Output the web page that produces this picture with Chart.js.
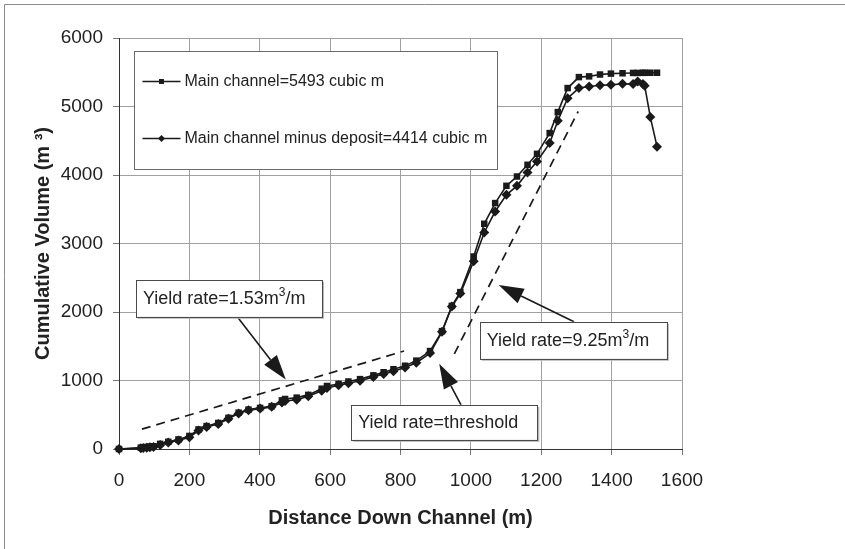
<!DOCTYPE html>
<html>
<head>
<meta charset="utf-8">
<title>Cumulative Volume</title>
<script src="https://cdn.jsdelivr.net/npm/chart.js@4.4.1/dist/chart.umd.min.js"></script>
<style>
  html, body { margin: 0; padding: 0; background: #ffffff; }
  #wrap { position: relative; width: 845px; height: 549px; }
</style>
</head>
<body>
<div id="wrap"><canvas id="volume-chart" width="845" height="549"></canvas></div>
<script>
/* global Chart */

// Survey stations down the channel (m), shared by both volume series.
const DISTANCE_M = [
  0, 62, 69, 79, 88, 98, 117, 140, 169, 200, 226, 249, 282, 311, 340, 368,
  401, 434, 463, 472, 505, 538, 576, 591, 624, 652, 685, 723, 752, 780, 813,
  845, 884, 918, 946, 970, 1008, 1038, 1069, 1101, 1131, 1161, 1188, 1224,
  1247, 1275, 1307, 1336, 1367, 1398, 1431, 1461, 1474, 1489, 1494, 1510, 1529,
];

// Cumulative volume (m3) of the main channel.
const MAIN_CHANNEL = [
  0, 20, 25, 30, 35, 40, 75, 105, 140, 190, 285, 335, 380, 455, 530, 575,
  600, 625, 710, 730, 750, 790, 880, 920, 950, 985, 1020, 1075, 1120, 1165, 1215,
  1290, 1430, 1720, 2090, 2290, 2810, 3288, 3590, 3842, 3978, 4149, 4309, 4612,
  4918, 5269, 5429, 5440, 5467, 5480, 5485, 5490, 5490, 5492, 5492, 5493, 5493,
];

// Cumulative volume (m3) of the main channel minus the deposit.
const MINUS_DEPOSIT = [
  0, 10, 15, 20, 25, 30, 60, 95, 125, 170, 270, 320, 365, 440, 520, 565,
  590, 615, 680, 700, 720, 770, 850, 890, 930, 960, 995, 1050, 1095, 1135, 1190,
  1260, 1400, 1710, 2080, 2270, 2740, 3161, 3467, 3711, 3842, 4036, 4197, 4466,
  4791, 5122, 5269, 5292, 5310, 5316, 5331, 5327, 5365, 5327, 5302, 4845, 4414,
];

const SERIES_LABELS = [
  "Main channel=5493 cubic m",
  "Main channel minus deposit=4414 cubic m",
];

// Dashed yield-rate trend lines: [start, end].
const LOW_RATE_X = [65, 810];
const LOW_RATE_Y = [290, 1430];
const HIGH_RATE_X = [953, 1305];
const HIGH_RATE_Y = [1390, 4927];

const X_TICKS = [0, 200, 400, 600, 800, 1000, 1200, 1400, 1600];
const Y_TICKS = [0, 1000, 2000, 3000, 4000, 5000, 6000];

const FONT = '"Liberation Sans", Arial, sans-serif';
const INK = "#1a1a1a";

// Callout boxes and arrows, anchored in data units (m, m3).
const CALLOUTS = [
  {
    parts: [["Yield rate=1.53m", false], ["3", true], ["/m", false]],
    box: { left: 48, right: 577, top: 2470, bottom: 1930 },
    tail: { x: 336, y: 1930 },
    tip: { x: 474, y: 1013 },
  },
  {
    parts: [["Yield rate=9.25m", false], ["3", true], ["/m", false]],
    box: { left: 1025, right: 1557, top: 1857, bottom: 1317 },
    tail: { x: 1293, y: 1857 },
    tip: { x: 1079, y: 2393 },
  },
  {
    parts: [["Yield rate=threshold", false]],
    box: { left: 660, right: 1189, top: 645, bottom: 134 },
    tail: { x: 972, y: 645 },
    tip: { x: 910, y: 1245 },
  },
];
const LEGEND_BOX = { left: 44, right: 1077, top: 5803, bottom: 4076 };

function toPoints(xs, ys) {
  return xs.map((x, i) => ({ x, y: ys[i] }));
}

function drawBox(ctx, x1, y1, x2, y2) {
  ctx.save();
  ctx.fillStyle = "#b8b8b8";
  ctx.fillRect(x1 + 2, y1 + 2, x2 - x1, y2 - y1);
  ctx.fillStyle = "#ffffff";
  ctx.fillRect(x1, y1, x2 - x1, y2 - y1);
  ctx.strokeStyle = "#4a4a4a";
  ctx.lineWidth = 1;
  ctx.strokeRect(Math.round(x1) + 0.5, Math.round(y1) + 0.5, Math.round(x2 - x1), Math.round(y2 - y1));
  ctx.restore();
}

function drawArrow(ctx, x1, y1, x2, y2) {
  const angle = Math.atan2(y2 - y1, x2 - x1);
  const headLen = 25;
  const headHalf = 8;
  const bx = x2 - headLen * Math.cos(angle);
  const by = y2 - headLen * Math.sin(angle);
  ctx.save();
  ctx.strokeStyle = INK;
  ctx.fillStyle = INK;
  ctx.lineWidth = 1.6;
  ctx.beginPath();
  ctx.moveTo(x1, y1);
  ctx.lineTo(bx, by);
  ctx.stroke();
  ctx.beginPath();
  ctx.moveTo(x2, y2);
  ctx.lineTo(bx + headHalf * Math.sin(angle), by - headHalf * Math.cos(angle));
  ctx.lineTo(bx - headHalf * Math.sin(angle), by + headHalf * Math.cos(angle));
  ctx.closePath();
  ctx.fill();
  ctx.restore();
}

function drawParts(ctx, parts, x, y) {
  let cx = x;
  parts.forEach(([text, sup]) => {
    ctx.font = sup ? `12px ${FONT}` : `18px ${FONT}`;
    ctx.fillText(text, cx, sup ? y - 7 : y);
    cx += ctx.measureText(text).width;
  });
}

const calloutPlugin = {
  id: "callouts",
  beforeDraw(chart) {
    const { ctx, width, height } = chart;
    ctx.save();
    ctx.strokeStyle = "#8c8c8c";
    ctx.lineWidth = 1;
    ctx.beginPath();
    ctx.moveTo(4.5, height);
    ctx.lineTo(4.5, 4.5);
    ctx.lineTo(width, 4.5);
    ctx.stroke();
    ctx.restore();
  },
  afterDatasetsDraw(chart) {
    const { ctx } = chart;
    const xs = chart.scales.x;
    const ys = chart.scales.y;

    // legend panel
    const lx1 = xs.getPixelForValue(LEGEND_BOX.left);
    const lx2 = xs.getPixelForValue(LEGEND_BOX.right);
    const ly1 = ys.getPixelForValue(LEGEND_BOX.top);
    const ly2 = ys.getPixelForValue(LEGEND_BOX.bottom);
    ctx.save();
    ctx.fillStyle = "#ffffff";
    ctx.fillRect(lx1, ly1, lx2 - lx1, ly2 - ly1);
    ctx.strokeStyle = "#6a6a6a";
    ctx.lineWidth = 1;
    ctx.strokeRect(Math.round(lx1) + 0.5, Math.round(ly1) + 0.5, Math.round(lx2 - lx1), Math.round(ly2 - ly1));
    const rows = [ly1 + 30, ly1 + 87];
    SERIES_LABELS.forEach((label, i) => {
      const y = rows[i];
      ctx.strokeStyle = INK;
      ctx.lineWidth = 1.5;
      ctx.beginPath();
      ctx.moveTo(lx1 + 8, y);
      ctx.lineTo(lx1 + 46, y);
      ctx.stroke();
      ctx.fillStyle = INK;
      Chart.helpers.drawPoint(ctx, {
        pointStyle: chart.data.datasets[i].pointStyle,
        radius: 3.5,
        borderWidth: 0,
        rotation: 0,
      }, lx1 + 27, y);
      ctx.font = `16px ${FONT}`;
      ctx.textBaseline = "middle";
      ctx.fillStyle = "#222";
      ctx.fillText(label, lx1 + 50, y);
    });
    ctx.restore();

    // yield-rate callouts
    CALLOUTS.forEach((c) => {
      drawArrow(
        ctx,
        xs.getPixelForValue(c.tail.x), ys.getPixelForValue(c.tail.y),
        xs.getPixelForValue(c.tip.x), ys.getPixelForValue(c.tip.y)
      );
      const x1 = xs.getPixelForValue(c.box.left);
      const x2 = xs.getPixelForValue(c.box.right);
      const y1 = ys.getPixelForValue(c.box.top);
      const y2 = ys.getPixelForValue(c.box.bottom);
      drawBox(ctx, x1, y1, x2, y2);
      ctx.save();
      ctx.fillStyle = "#222";
      ctx.textBaseline = "middle";
      drawParts(ctx, c.parts, x1 + 7, (y1 + y2) / 2 + 1);
      ctx.restore();
    });
  },
};

Chart.defaults.font.family = FONT;
Chart.defaults.color = "#222";

new Chart(document.getElementById("volume-chart"), {
  type: "scatter",
  data: {
    datasets: [
      {
        label: SERIES_LABELS[0],
        data: toPoints(DISTANCE_M, MAIN_CHANNEL),
        showLine: true,
        clip: false,
        borderColor: INK,
        borderWidth: 1.6,
        backgroundColor: INK,
        pointStyle: "rect",
        pointRadius: 4.6,
        pointBorderWidth: 0,
      },
      {
        label: SERIES_LABELS[1],
        data: toPoints(DISTANCE_M, MINUS_DEPOSIT),
        showLine: true,
        clip: false,
        borderColor: INK,
        borderWidth: 1.6,
        backgroundColor: INK,
        pointStyle: "rectRot",
        pointRadius: 5,
        pointBorderWidth: 0,
      },
      {
        label: "low rate",
        data: toPoints(LOW_RATE_X, LOW_RATE_Y),
        showLine: true,
        borderColor: INK,
        borderWidth: 1.7,
        borderDash: [9, 6],
        pointRadius: 0,
      },
      {
        label: "high rate",
        data: toPoints(HIGH_RATE_X, HIGH_RATE_Y),
        showLine: true,
        borderColor: INK,
        borderWidth: 1.7,
        borderDash: [9, 6],
        pointRadius: 0,
      },
    ],
  },
  options: {
    responsive: false,
    animation: false,
    layout: { padding: { left: 20, right: 163, top: 38, bottom: 10 } },
    scales: {
      x: {
        type: "linear",
        min: 0,
        max: 1600,
        afterBuildTicks: (scale) => {
          scale.ticks = X_TICKS.map((value) => ({ value }));
        },
        afterFit: (scale) => {
          scale.height = 90;
        },
        grid: { color: "#a0a0a0", tickColor: "#777", tickLength: 6 },
        border: { color: "#333", width: 1 },
        ticks: {
          font: { size: 19 },
          color: "#222",
          padding: 14,
          maxRotation: 0,
          callback: (value) => String(value),
        },
        title: {
          display: true,
          text: "Distance Down Channel (m)",
          font: { size: 20, weight: "bold" },
          color: "#222",
          padding: { top: 0, bottom: 9 },
        },
      },
      y: {
        min: 0,
        max: 6000,
        afterBuildTicks: (scale) => {
          scale.ticks = Y_TICKS.map((value) => ({ value }));
        },
        afterFit: (scale) => {
          scale.width = 99;
        },
        grid: { color: "#a0a0a0", tickColor: "#777", tickLength: 6 },
        border: { color: "#333", width: 1 },
        ticks: {
          font: { size: 19 },
          color: "#222",
          padding: 10,
          callback: (value) => String(value),
        },
        title: {
          display: true,
          text: "Cumulative Volume (m \u00b3)",
          font: { size: 20, weight: "bold" },
          color: "#222",
          padding: { top: 11, bottom: 0 },
        },
      },
    },
    plugins: {
      legend: { display: false },
      tooltip: { enabled: false },
    },
  },
  plugins: [calloutPlugin],
});
</script>
</body>
</html>
